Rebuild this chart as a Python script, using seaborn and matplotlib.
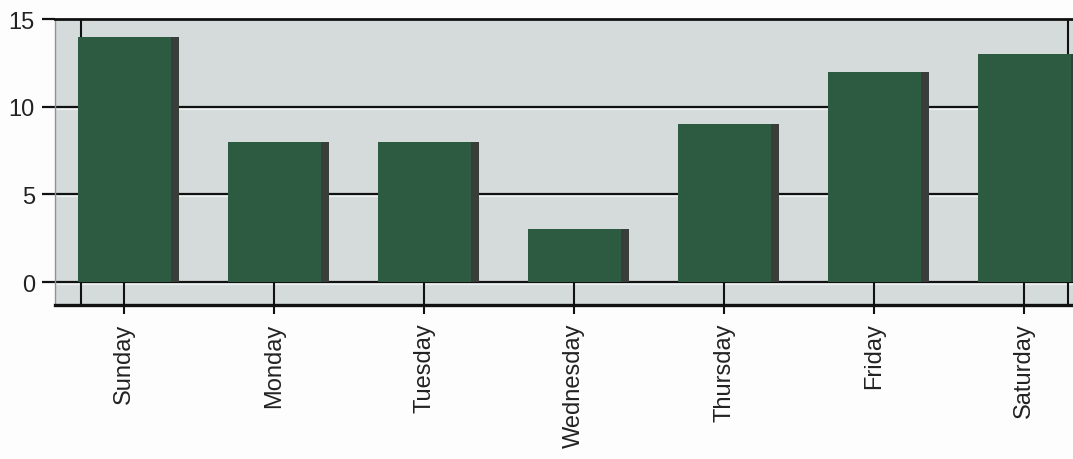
import matplotlib
matplotlib.use("Agg")
import matplotlib.pyplot as plt
import matplotlib.patheffects as pe
import pandas as pd
import seaborn as sns

days = ["Sunday", "Monday", "Tuesday", "Wednesday", "Thursday", "Friday", "Saturday"]
counts = [14, 8, 8, 3, 9, 12, 13]
y_ticks = [0, 5, 10, 15]

df = pd.DataFrame({"day": days, "count": counts})

sns.set_theme(style="white")
plt.rcParams["font.family"] = ["Liberation Sans", "DejaVu Sans"]

panel = "#d4dbda"
bar_color = "#2d5b41"
side_color = "#393e3b"
ink = "#111111"

fig = plt.figure(figsize=(10.73, 4.60), dpi=100, facecolor="#fdfdfd")
ax = fig.add_axes([0.0513, 0.3348, 0.9487, 0.6217])
ax.set_facecolor(panel)

sns.barplot(data=df, x="day", y="count", order=days, color=bar_color,
            saturation=1, width=0.62, ax=ax, zorder=3)

# dark side face on the right of each bar
for p in ax.patches:
    p.set_edgecolor("none")
    p.set_path_effects([
        pe.SimplePatchShadow(offset=(6, 0), shadow_rgbFace=side_color, alpha=1.0),
        pe.Normal(),
    ])

ax.set_xlim(-0.46, 6.325)
ax.set_ylim(-1.31, 15)
ax.set_yticks(y_ticks)
ax.set_xlabel("")
ax.set_ylabel("")

# horizontal rules at each y tick, with a light edge underneath
for v in y_ticks[:-1]:
    ax.axhline(v, color=ink, lw=1.6, zorder=1,
               path_effects=[pe.SimpleLineShadow(offset=(0, -1.5), shadow_color="white", alpha=0.6),
                             pe.Normal()])

# back wall edges and category dividers on the floor strip
ax.axvline(-0.29, color=ink, lw=1.5, zorder=2)
ax.axvline(6.29, color=ink, lw=1.5, zorder=2)
ax.vlines(range(len(days)), -1.31, 0, color=ink, lw=1.5, zorder=2)

ax.spines["right"].set_visible(False)
ax.spines["left"].set_color("#8f9493")
ax.spines["left"].set_linewidth(1.0)
ax.spines["top"].set_color(ink)
ax.spines["top"].set_linewidth(2.0)
ax.spines["bottom"].set_color(ink)
ax.spines["bottom"].set_linewidth(2.4)

ax.tick_params(axis="y", direction="out", length=9.5, width=1.6, color=ink,
               pad=5, labelsize=17, labelcolor="#222222", left=True)
ax.tick_params(axis="x", direction="out", length=6.5, width=1.5, color=ink,
               pad=6, labelsize=17, labelcolor="#222222", bottom=True)
for lbl in ax.get_xticklabels():
    lbl.set_rotation(90)
    lbl.set_va("top")
    lbl.set_ha("center")

fig.savefig("out.png", dpi=100, facecolor=fig.get_facecolor())
